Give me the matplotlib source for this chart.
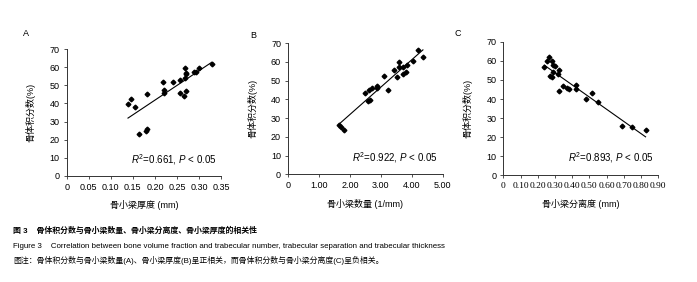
import numpy as np
import matplotlib
matplotlib.use("Agg")
import matplotlib.pyplot as plt

plt.rcParams['font.family'] = ['Liberation Sans', 'Noto Sans CJK SC']
plt.rcParams['mathtext.fontset'] = 'custom'
plt.rcParams['mathtext.rm'] = 'Liberation Sans'
plt.rcParams['mathtext.it'] = 'Liberation Sans:italic'

# Panel A: trabecular thickness (mm) vs bone volume fraction (%)
thick_x = [0.139, 0.145, 0.154, 0.163, 0.179, 0.182, 0.183, 0.218, 0.221, 0.221,
           0.240, 0.257, 0.256, 0.265, 0.269, 0.270, 0.270, 0.269, 0.271, 0.289,
           0.294, 0.300, 0.329]
thick_y = [39.7, 42.6, 38.2, 23.2, 25.0, 26.1, 45.0, 51.7, 47.4, 46.0,
           51.8, 52.8, 46.0, 44.1, 59.9, 57.0, 56.1, 54.4, 46.7, 57.2,
           57.5, 59.9, 61.9]

# Panel B: trabecular number (1/mm)
num_x = [1.66, 1.70, 1.81, 2.48, 2.60, 2.65, 2.63, 2.71, 2.89, 2.89, 3.09, 3.22,
         3.44, 3.52, 3.59, 3.60, 3.70, 3.71, 3.80, 3.84, 4.03, 4.21, 4.36]
num_y = [26.4, 25.2, 23.8, 43.4, 38.9, 39.8, 44.8, 45.9, 47.3, 46.1, 52.5, 45.2,
         55.7, 51.8, 60.2, 57.1, 57.1, 53.4, 54.5, 58.2, 60.7, 66.4, 62.5]

# Panel C: trabecular separation (mm)
sep_x = [0.238, 0.254, 0.263, 0.281, 0.286, 0.302, 0.325, 0.271, 0.283, 0.290,
         0.319, 0.321, 0.344, 0.368, 0.383, 0.420, 0.424, 0.480, 0.513, 0.548,
         0.689, 0.747, 0.826]
sep_y = [56.9, 60.0, 62.1, 60.0, 57.8, 57.2, 55.1, 52.0, 51.7, 54.3,
         53.1, 44.2, 46.8, 45.9, 45.5, 45.0, 47.6, 39.8, 42.9, 38.6,
         26.0, 25.3, 23.6]

panels = [
    dict(letter="A", x=thick_x, y=thick_y, xmax=0.35, xstep=0.05,
         xlabel="骨小梁厚度 (mm)", r2="0.661",
         rect=[0.0957, 0.377, 0.2214, 0.448], serif=False),
    dict(letter="B", x=num_x, y=num_y, xmax=5.0, xstep=1.0,
         xlabel="骨小梁数量 (1/mm)", r2="0.922",
         rect=[0.4132, 0.382, 0.2220, 0.4645], serif=False),
    dict(letter="C", x=sep_x, y=sep_y, xmax=0.90, xstep=0.10,
         xlabel="骨小梁分离度 (mm)", r2="0.893",
         rect=[0.7221, 0.378, 0.2224, 0.474], serif=True),
]

W, H = 697, 282
fig = plt.figure(figsize=(W / 100, H / 100), dpi=100)
axcol = "#333333"

for p in panels:
    ax = fig.add_axes(p["rect"])
    x = np.array(p["x"])
    y = np.array(p["y"])
    ax.plot(x, y, linestyle="none", marker="D", markersize=2.4, color="black")
    k, b = np.polyfit(x, y, 1)
    xs = np.array([x.min(), x.max()])
    ax.plot(xs, k * xs + b, color="black", lw=0.8)

    ax.set_xlim(0, p["xmax"])
    ax.set_ylim(0, 70)
    xt = np.arange(0, p["xmax"] + 1e-9, p["xstep"])
    ax.set_xticks(xt)
    ax.set_xticklabels(["0"] + ["%.2f" % v for v in xt[1:]])
    ax.set_yticks(range(0, 71, 10))
    for s in ["top", "right"]:
        ax.spines[s].set_visible(False)
    for s in ["left", "bottom"]:
        ax.spines[s].set_color(axcol)
        ax.spines[s].set_linewidth(0.7)
    ax.tick_params(direction="out", length=2.5, width=0.6, color=axcol,
                   labelsize=6.5, pad=2.5, labelcolor="black")
    if p["serif"]:
        for lab in ax.get_xticklabels():
            lab.set_family("Liberation Serif")
            lab.set_fontsize(6.8)

    ax.set_ylabel("骨体积分数(%)", fontsize=6.5, labelpad=10)
    ax.set_xlabel(p["xlabel"], fontsize=6.5, labelpad=6)
    ax.text(0.97, 0.13, r"$R^2$=" + p["r2"] + ", $P$ < 0.05",
            transform=ax.transAxes, ha="right", va="center", fontsize=7)

fig.text(26 / W, 1 - 33 / H, "A", fontsize=6.5, ha="center", va="center")
fig.text(253 / W, 1 - 35 / H, "B", fontsize=6.5, ha="center", va="center")
fig.text(458 / W, 1 - 34 / H, "C", fontsize=6.5, ha="center", va="center")

fig.text(13 / W, 1 - 231 / H,
         "图 3    骨体积分数与骨小梁数量、骨小梁分离度、骨小梁厚度的相关性",
         fontsize=5.7, fontweight="bold", va="center")
fig.text(13 / W, 1 - 246 / H,
         "Figure 3    Correlation between bone volume fraction and trabecular number, "
         "trabecular separation and trabecular thickness",
         fontsize=5.7, va="center")
fig.text(13 / W, 1 - 260 / H,
         "图注：骨体积分数与骨小梁数量(A)、骨小梁厚度(B)呈正相关，"
         "而骨体积分数与骨小梁分离度(C)呈负相关。",
         fontsize=5.7, va="center")

fig.savefig("out.png", dpi=100)
